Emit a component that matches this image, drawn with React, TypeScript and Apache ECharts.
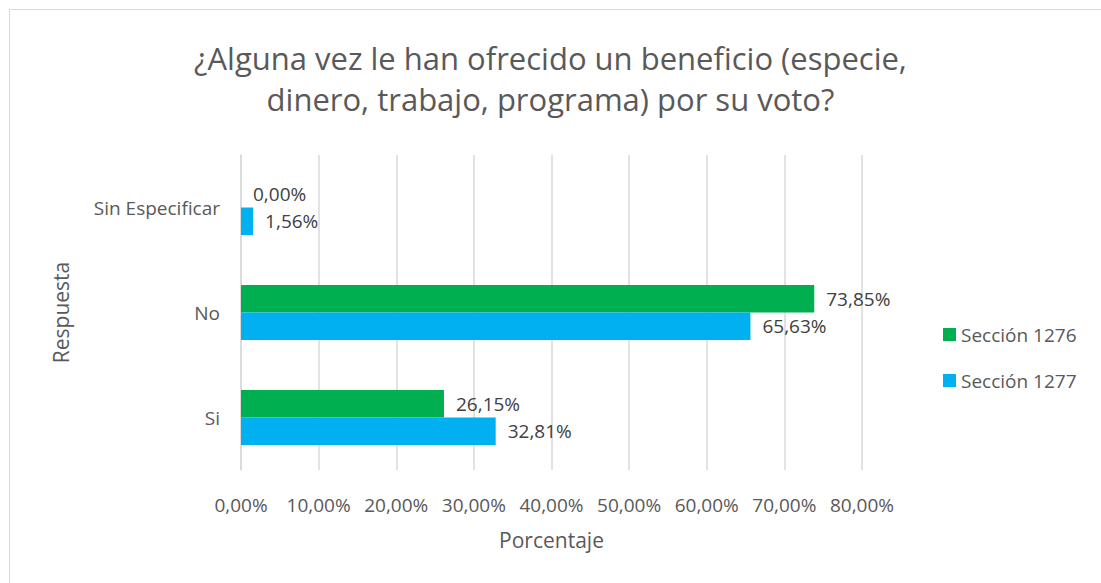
import React, { useEffect, useRef } from "react";
import * as echarts from "echarts";

const categories = ["Si", "No", "Sin Especificar"];
const seccion1276 = [26.15, 73.85, 0.0];
const seccion1277 = [32.81, 65.63, 1.56];
const seriesNames = ["Sección 1276", "Sección 1277"];
const titleText = "¿Alguna vez le han ofrecido un beneficio (especie,\ndinero, trabajo, programa) por su voto?";

const FONT = "'Open Sans', 'Noto Sans', sans-serif";
const TXT = "#595959";

const fmt = (v: number) => v.toFixed(2).replace(".", ",") + "%";

export default function App() {
  const ref = useRef<HTMLDivElement>(null);
  useEffect(() => {
    if (!ref.current) return;
    const chart = echarts.init(ref.current, undefined, { renderer: "svg" });
    const labelCfg = {
      show: true,
      position: "right",
      distance: 12,
      fontFamily: FONT,
      fontSize: 19,
      color: "#404040",
      formatter: (p: any) => fmt(p.value),
    };
    chart.setOption({
      animation: false,
      backgroundColor: "#ffffff",
      textStyle: { fontFamily: FONT },
      title: {
        text: titleText,
        left: "center",
        top: 32,
        textStyle: { fontFamily: FONT, fontSize: 31, fontWeight: "normal", color: TXT, lineHeight: 41 },
      },
      graphic: [
        {
          type: "rect",
          shape: { x: 9.5, y: 9.5, width: 1100, height: 580 },
          style: { fill: "none", stroke: "#d9d9d9", lineWidth: 1 },
          silent: true,
        },
      ],
      legend: {
        data: seriesNames,
        orient: "vertical",
        left: 938,
        top: 320,
        itemWidth: 13,
        itemHeight: 13,
        itemGap: 27,
        icon: "rect",
        textStyle: { fontFamily: FONT, fontSize: 19, color: TXT },
      },
      grid: { left: 241, right: 239, top: 155, bottom: 113 },
      xAxis: {
        type: "value",
        min: 0,
        max: 80,
        interval: 10,
        name: "Porcentaje",
        nameLocation: "middle",
        nameGap: 59,
        nameTextStyle: { fontFamily: FONT, fontSize: 21, color: TXT },
        axisLine: { show: false },
        axisTick: { show: false },
        axisLabel: {
          fontFamily: FONT,
          fontSize: 19,
          color: TXT,
          margin: 25,
          formatter: (v: number) => fmt(v),
        },
        splitLine: { show: true, lineStyle: { color: "#d9d9d9", width: 1.5 } },
      },
      yAxis: {
        type: "category",
        data: categories,
        name: "Respuesta",
        nameLocation: "middle",
        nameGap: 170,
        nameRotate: 90,
        nameTextStyle: { fontFamily: FONT, fontSize: 21, color: TXT },
        axisLine: { show: true, lineStyle: { color: "#d9d9d9", width: 1.5 } },
        axisTick: { show: false },
        axisLabel: { fontFamily: FONT, fontSize: 19, color: TXT, margin: 21 },
      },
      series: [
        {
          name: seriesNames[0],
          type: "bar",
          data: seccion1276,
          barWidth: 27.5,
          barGap: "0%",
          itemStyle: { color: "#00b050" },
          label: labelCfg,
        },
        {
          name: seriesNames[1],
          type: "bar",
          data: seccion1277,
          barWidth: 27.5,
          barGap: "0%",
          itemStyle: { color: "#00b0f0" },
          label: labelCfg,
        },
      ],
    });
    return () => chart.dispose();
  }, []);
  return <div ref={ref} style={{ position: "absolute", left: 0, top: 0, width: 1101, height: 583 }} />;
}
